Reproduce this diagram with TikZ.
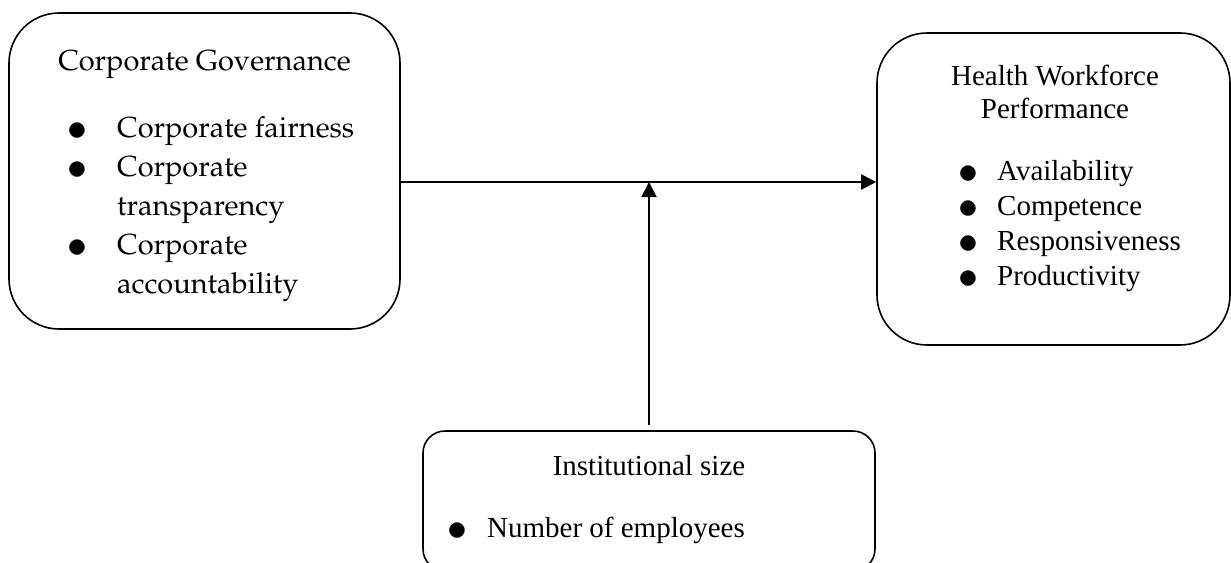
\documentclass[tikz,border=0pt]{standalone}
\usepackage[T1]{fontenc}
\usepackage{fontspec}
\setmainfont{Liberation Serif}
\usetikzlibrary{arrows.meta}

\newcommand{\bul}[1]{\makebox[0pt]{\raisebox{-3.5pt}{\scalebox{1.6}{$\bullet$}}}\hspace{#1}}

\begin{document}
\begin{tikzpicture}[
			x=1pt, y=-1pt,
			box/.style={draw, line width=1.6pt, rounded corners=50pt, inner sep=0pt},
			gtext/.style={font={\fontencoding{T1}\fontfamily{ppl}\fontsize{29}{39}\selectfont}, inner sep=0pt},
			ptext/.style={font={\fontsize{29}{35}\selectfont}, inner sep=0pt},
			conn/.style={line width=2pt, -{Triangle[length=15pt,width=15pt]}}
			]
			\fill[white] (0,0) rectangle (1231,562);
			\useasboundingbox (0,0) rectangle (1231,562);
			
			\node[box, minimum width=391pt, minimum height=316pt] (gov) at (204.5,171) {};
			\node[box, minimum width=353pt, minimum height=312pt] (perf) at (1053.5,189) {};
			\node[box, rounded corners=22pt, minimum width=452pt, minimum height=140pt] (size) at (649,501) {};
			
			\node[gtext, anchor=base] (govtitle) at (204.5,70) {Corporate Governance};
			\node[gtext, anchor=base west] (govlist) at (77,137) {\begin{tabular}[t]{@{}l@{}}
					\bul{40pt}Corporate fairness\\
					\bul{40pt}Corporate\\
					\hspace{40pt}transparency\\
					\bul{40pt}Corporate\\
					\hspace{40pt}accountability
				\end{tabular}};
			
			\node[ptext, anchor=base] (perftitle) at (1055,85) {\begin{tabular}[t]{@{}c@{}}
					Health Workforce\\[-2pt]
					Performance
				\end{tabular}};
			\node[ptext, anchor=base west] (perflist) at (968,180) {\begin{tabular}[t]{@{}l@{}}
					\bul{29pt}Availability\\
					\bul{29pt}Competence\\
					\bul{29pt}Responsiveness\\
					\bul{29pt}Productivity
				\end{tabular}};
			
			\node[ptext, anchor=base] (sizetitle) at (649,475) {Institutional size};
			\node[ptext, anchor=base west] (sizelist) at (457,537) {\bul{30pt}Number of employees};
			
			\coordinate (mid) at (649,182);
			\draw[conn] (gov.east |- mid) -- (perf.west |- mid);
			\draw[conn, shorten <=5pt] (size.north) -- (mid);
		\end{tikzpicture}
\end{document}
